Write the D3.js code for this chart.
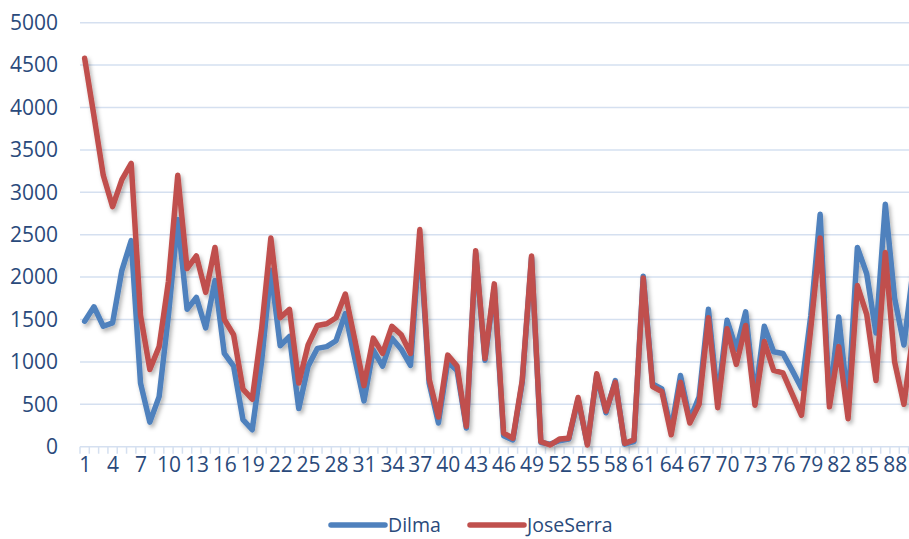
<!DOCTYPE html>
<html>
<head>
<meta charset="utf-8">
<script src="https://cdn.jsdelivr.net/npm/d3@7"></script>
<style>
  html, body { margin: 0; padding: 0; background: #fff; }
  svg { display: block; font-family: "Open Sans", "Liberation Sans", sans-serif; }
</style>
</head>
<body>
<svg id="chart" width="909" height="539"></svg>
<script>
// Category index 1..90
const categories = d3.range(1, 91);

const dilma = [
  1480, 1650, 1420, 1460, 2080, 2430, 750, 290, 590, 1550,
  2680, 1620, 1760, 1400, 1960, 1100, 950, 320, 200, 1000,
  2080, 1190, 1300, 450, 950, 1160, 1180, 1250, 1570, 1050,
  540, 1140, 950, 1280, 1150, 960, 2460, 750, 280, 1000,
  900, 220, 2280, 1020, 1880, 130, 80, 760, 2230, 50,
  30, 70, 90, 560, 30, 840, 400, 780, 30, 60,
  2010, 740, 680, 200, 840, 320, 590, 1620, 560, 1490,
  1150, 1590, 580, 1420, 1120, 1100, 900, 690, 1550, 2740,
  520, 1530, 500, 2350, 2040, 1340, 2860, 1750, 1200, 2100
];

const joseSerra = [
  4580, 3900, 3200, 2830, 3150, 3340, 1550, 910, 1180, 1950,
  3200, 2100, 2250, 1820, 2350, 1500, 1320, 680, 560, 1380,
  2460, 1520, 1620, 750, 1200, 1430, 1450, 1520, 1800, 1270,
  720, 1280, 1100, 1420, 1320, 1100, 2560, 800, 350, 1080,
  950, 240, 2310, 1040, 1920, 160, 100, 780, 2250, 60,
  20, 90, 100, 580, 20, 860, 420, 760, 40, 80,
  1990, 710, 650, 140, 760, 280, 500, 1520, 460, 1390,
  970, 1430, 490, 1240, 900, 870, 620, 370, 1400, 2460,
  470, 1180, 330, 1900, 1560, 780, 2290, 1000, 500, 1350
];

const yTicks = [0, 500, 1000, 1500, 2000, 2500, 3000, 3500, 4000, 4500, 5000];
const xTickLabels = d3.range(1, 91, 3);

const seriesNames = ["Dilma", "JoseSerra"];
const seriesColors = ["#4f81bd", "#c0504d"];

const svg = d3.select("#chart");
const W = 909, H = 539;

const plotLeft = 80, plotTop = 22.7, plotBottom = 446.7;
const step = 9.31;

const x = d3.scaleBand()
  .domain(categories)
  .range([plotLeft, plotLeft + step * categories.length])
  .paddingInner(0).paddingOuter(0);
const cx = d => x(d) + x.bandwidth() / 2;

const y = d3.scaleLinear().domain([0, 5000]).range([plotBottom, plotTop]);

const gridColor = "#d5e0f0";
const textColor = "#2a4a7b";

// soft drop shadow under the lines
const defs = svg.append("defs");
const f = defs.append("filter").attr("id", "shadow")
  .attr("x", "-5%").attr("y", "-5%").attr("width", "110%").attr("height", "115%");
f.append("feDropShadow")
  .attr("dx", 2).attr("dy", 3).attr("stdDeviation", 2)
  .attr("flood-color", "#000").attr("flood-opacity", 0.3);

// horizontal gridlines
svg.append("g").selectAll("line")
  .data(yTicks.filter(v => v > 0))
  .join("line")
  .attr("x1", plotLeft).attr("x2", W)
  .attr("y1", d => y(d)).attr("y2", d => y(d))
  .attr("stroke", gridColor).attr("stroke-width", 1.5);

// y axis labels
const yAxis = d3.axisLeft(y).tickValues(yTicks).tickFormat(d3.format("d"))
  .tickSize(0).tickPadding(0);
const gy = svg.append("g").attr("transform", `translate(58,0)`).call(yAxis);
gy.select(".domain").remove();
gy.selectAll("text")
  .attr("fill", textColor).attr("font-size", 21)
  .attr("font-family", "'Open Sans', sans-serif");

// category axis: baseline plus boundary tick marks
const boundaries = categories.map(c => x(c)).concat([x(categories[categories.length - 1]) + x.bandwidth()]);
svg.append("line")
  .attr("x1", plotLeft).attr("x2", W)
  .attr("y1", y(0)).attr("y2", y(0))
  .attr("stroke", gridColor).attr("stroke-width", 1.5);
svg.append("g").selectAll("line")
  .data(boundaries)
  .join("line")
  .attr("x1", d => d).attr("x2", d => d)
  .attr("y1", y(0)).attr("y2", y(0) + 7)
  .attr("stroke", gridColor).attr("stroke-width", 1.5);

const xPoint = d3.scalePoint().domain(categories)
  .range([cx(categories[0]), cx(categories[categories.length - 1])]);
const xAxis = d3.axisBottom(xPoint).tickValues(xTickLabels).tickSize(0).tickPadding(0);
const gx = svg.append("g").attr("transform", `translate(0,${y(0) + 10})`).call(xAxis);
gx.select(".domain").remove();
gx.selectAll("text")
  .attr("fill", textColor).attr("font-size", 21)
  .attr("font-family", "'Open Sans', sans-serif");

// series lines
const line = d3.line()
  .x((d, i) => cx(categories[i]))
  .y(d => y(d))
  .curve(d3.curveLinear);

const lines = svg.append("g").attr("filter", "url(#shadow)");
[dilma, joseSerra].forEach((vals, k) => {
  lines.append("path")
    .datum(vals)
    .attr("d", line)
    .attr("fill", "none")
    .attr("stroke", seriesColors[k])
    .attr("stroke-width", 5.5)
    .attr("stroke-linejoin", "round")
    .attr("stroke-linecap", "round");
});

// legend
const legend = svg.append("g").attr("transform", "translate(0,525)");
const legendX = [331, 470];
seriesNames.forEach((name, k) => {
  const g = legend.append("g").attr("transform", `translate(${legendX[k]},0)`);
  g.append("line")
    .attr("x1", 0).attr("x2", 54).attr("y1", 0).attr("y2", 0)
    .attr("stroke", seriesColors[k]).attr("stroke-width", 5.5)
    .attr("stroke-linecap", "round");
  g.append("text")
    .attr("x", 57).attr("y", 0).attr("dy", "0.35em")
    .attr("fill", textColor).attr("font-size", 19.5)
    .text(name);
});
</script>
</body>
</html>
